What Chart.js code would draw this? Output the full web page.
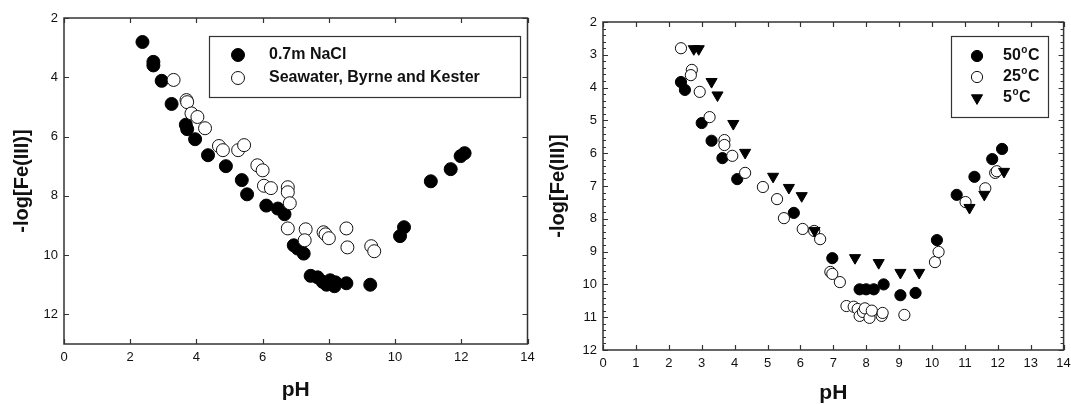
<!DOCTYPE html>
<html>
<head>
<meta charset="utf-8">
<script src="https://cdn.jsdelivr.net/npm/chart.js@4.4.0/dist/chart.umd.min.js"></script>
<style>
  html, body { margin: 0; padding: 0; background: #fff; }
  #wrap { position: relative; width: 1071px; height: 404px; overflow: hidden; }
  #c1 { position: absolute; left: 0; top: 0; }
  #c2 { position: absolute; left: 535px; top: 0; }
</style>
</head>
<body>
<div id="wrap">
  <canvas id="c1" width="535" height="404"></canvas>
  <canvas id="c2" width="536" height="404"></canvas>
</div>
<script>
// ---- left panel: 0.7 m NaCl vs seawater ----
var naclPH = [2.37, 2.70, 2.70, 2.95, 3.25, 3.68, 3.72, 3.96, 4.35, 4.89, 5.37, 5.53, 6.11, 6.46, 6.66, 6.94, 7.06, 7.24, 7.45, 7.66, 7.81, 7.93, 8.04, 8.17, 8.20, 8.53, 9.25, 10.15, 10.27, 11.08, 11.68, 11.98, 12.10];
var naclFe = [2.81, 3.48, 3.60, 4.12, 4.90, 5.60, 5.75, 6.09, 6.63, 7.00, 7.47, 7.95, 8.33, 8.43, 8.62, 9.67, 9.78, 9.95, 10.70, 10.75, 10.90, 11.00, 10.85, 11.05, 10.92, 10.95, 11.00, 9.36, 9.06, 7.51, 7.10, 6.66, 6.56];

var seaPH = [3.31, 3.70, 3.72, 3.85, 4.03, 4.26, 4.68, 4.80, 5.26, 5.44, 5.84, 6.00, 6.04, 6.25, 6.76, 6.76, 6.82, 6.76, 7.30, 7.27, 7.84, 7.90, 8.00, 8.53, 8.56, 9.28, 9.37];
var seaFe = [4.09, 4.77, 4.84, 5.22, 5.34, 5.72, 6.32, 6.46, 6.46, 6.29, 6.97, 7.14, 7.66, 7.74, 7.71, 7.88, 8.25, 9.10, 9.13, 9.50, 9.23, 9.30, 9.43, 9.10, 9.74, 9.70, 9.87];

var leftXTicks = [0, 2, 4, 6, 8, 10, 12, 14];
var leftYTicks = [2, 4, 6, 8, 10, 12];

// ---- right panel: temperature series ----
var t50PH = [2.37, 2.49, 3.00, 3.30, 3.63, 4.08, 5.80, 6.97, 7.80, 8.00, 8.23, 8.53, 9.04, 9.50, 10.15, 10.75, 11.29, 11.83, 12.13];
var t50Fe = [3.83, 4.07, 5.08, 5.62, 6.15, 6.79, 7.82, 9.20, 10.15, 10.15, 10.15, 10.00, 10.33, 10.26, 8.65, 7.27, 6.72, 6.18, 5.87];

var t25PH = [2.37, 2.70, 2.67, 2.94, 3.24, 3.69, 3.69, 3.93, 4.32, 4.86, 5.29, 5.50, 6.07, 6.42, 6.60, 6.91, 6.97, 7.20, 7.40, 7.62, 7.74, 7.80, 7.90, 7.96, 8.10, 8.17, 8.47, 8.50, 9.16, 10.09, 10.20, 11.02, 11.62, 11.92, 11.97];
var t25Fe = [2.80, 3.46, 3.62, 4.13, 4.90, 5.60, 5.75, 6.08, 6.60, 7.03, 7.40, 7.98, 8.31, 8.37, 8.62, 9.62, 9.68, 9.93, 10.66, 10.68, 10.75, 10.96, 10.84, 10.73, 11.02, 10.80, 10.96, 10.87, 10.93, 9.32, 9.01, 7.49, 7.07, 6.60, 6.55];

var t5PH = [2.76, 2.91, 3.30, 3.48, 3.96, 4.32, 5.17, 5.65, 6.04, 6.43, 7.66, 8.38, 9.04, 9.61, 11.14, 11.59, 12.19];
var t5Fe = [2.82, 2.82, 3.82, 4.23, 5.10, 5.98, 6.71, 7.05, 7.30, 8.36, 9.19, 9.34, 9.64, 9.64, 7.66, 7.26, 6.56];

var rightXTicks = [0, 1, 2, 3, 4, 5, 6, 7, 8, 9, 10, 11, 12, 13, 14];
var rightYTicks = [2, 3, 4, 5, 6, 7, 8, 9, 10, 11, 12];

function pts(xs, ys) {
    return xs.map(function (x, i) { return { x: x, y: ys[i] }; });
}

Chart.defaults.font.family = "'Liberation Sans', Arial, sans-serif";
Chart.defaults.color = '#111';

function drawMarker(ctx, ds, x, y) {
    var r = ds.pointRadius;
    ctx.beginPath();
    if (ds.pointStyle === 'triangle') {
        // downward triangle, same geometry chart.js uses for rotation 180
        var rad = Math.PI;
        for (var k = 0; k < 3; k++) {
            var px = x + Math.sin(rad) * r, py = y - Math.cos(rad) * r;
            if (k === 0) ctx.moveTo(px, py); else ctx.lineTo(px, py);
            rad += Math.PI * 2 / 3;
        }
        ctx.closePath();
    } else {
        ctx.arc(x, y, r, 0, Math.PI * 2);
    }
    ctx.fillStyle = ds.pointBackgroundColor;
    ctx.strokeStyle = ds.pointBorderColor;
    ctx.lineWidth = ds.pointBorderWidth;
    ctx.fill();
    ctx.stroke();
}

// box around the plot plus inward tick marks on all four sides
var frameTicks = {
    id: 'frameTicks',
    beforeDatasetsDraw: function (chart, args, opts) {
        var ctx = chart.ctx, a = chart.chartArea;
        var xs = chart.scales.x, ys = chart.scales.y;
        ctx.save();
        ctx.strokeStyle = '#333';
        ctx.lineWidth = 1.5;
        ctx.strokeRect(a.left, a.top, a.right - a.left, a.bottom - a.top);
        ctx.lineWidth = 1.2;
        ctx.beginPath();
        xs.ticks.forEach(function (t) {
            var px = Math.round(xs.getPixelForValue(t.value)) + 0.5;
            ctx.moveTo(px, a.bottom); ctx.lineTo(px, a.bottom - opts.major);
            ctx.moveTo(px, a.top); ctx.lineTo(px, a.top + opts.major);
        });
        ys.ticks.forEach(function (t) {
            var py = Math.round(ys.getPixelForValue(t.value)) + 0.5;
            ctx.moveTo(a.left, py); ctx.lineTo(a.left + opts.major, py);
            ctx.moveTo(a.right, py); ctx.lineTo(a.right - opts.major, py);
        });
        if (opts.minor) {
            var n = Math.round((ys.max - ys.min) / opts.minor);
            for (var i = 1; i < n; i++) {
                var v = ys.min + i * opts.minor;
                var py = Math.round(ys.getPixelForValue(v)) + 0.5;
                ctx.moveTo(a.left, py); ctx.lineTo(a.left + opts.minorLen, py);
                ctx.moveTo(a.right, py); ctx.lineTo(a.right - opts.minorLen, py);
            }
        }
        ctx.stroke();
        ctx.restore();
    }
};

// boxed legend inside the plot
var legendBox = {
    id: 'legendBox',
    afterDatasetsDraw: function (chart, args, opts) {
        var ctx = chart.ctx;
        ctx.save();
        ctx.fillStyle = '#fff';
        ctx.fillRect(opts.x, opts.y, opts.w, opts.h);
        ctx.strokeStyle = '#333';
        ctx.lineWidth = 1.2;
        ctx.strokeRect(opts.x + 0.5, opts.y + 0.5, opts.w, opts.h);
        chart.data.datasets.forEach(function (ds, i) {
            var cy = opts.y + opts.first + i * opts.gap;
            drawMarker(ctx, ds, opts.markerX, cy);
            ctx.fillStyle = '#111';
            ctx.font = 'bold 16px ' + Chart.defaults.font.family;
            ctx.textBaseline = 'middle';
            var label = ds.label, tx = opts.textX;
            var deg = label.indexOf('°');
            if (deg >= 0) {
                var head = label.slice(0, deg), tail = label.slice(deg + 1);
                ctx.fillText(head, tx, cy);
                tx += ctx.measureText(head).width + 0.5;
                ctx.font = 'bold 10px ' + Chart.defaults.font.family;
                ctx.fillText('o', tx, cy - 6);
                tx += ctx.measureText('o').width + 0.5;
                ctx.font = 'bold 16px ' + Chart.defaults.font.family;
                ctx.fillText(tail, tx, cy);
            } else {
                ctx.fillText(label, tx, cy);
            }
        });
        ctx.restore();
    }
};

function axes(xTicks, yTicks, yMax, yStep, xStep, yWidth, xHeight, yTitlePad, xTitlePad) {
    return {
        x: {
            type: 'linear', min: 0, max: 14,
            grid: { display: false, drawTicks: false }, border: { display: false },
            ticks: { stepSize: xStep, padding: 6, maxRotation: 0, font: { size: 13 }, color: '#111' },
            afterBuildTicks: function (s) { s.ticks = xTicks.map(function (v) { return { value: v }; }); },
            afterFit: function (s) { s.height = xHeight; s.paddingLeft = 0; s.paddingRight = 0; },
            title: { display: true, text: 'pH', font: { size: 21, weight: 'bold', lineHeight: 1 }, color: '#111', padding: { top: 0, bottom: xTitlePad } }
        },
        y: {
            type: 'linear', min: 2, max: yMax, reverse: true,
            grid: { display: false, drawTicks: false }, border: { display: false },
            ticks: { stepSize: yStep, padding: 6, font: { size: 13 }, color: '#111' },
            afterBuildTicks: function (s) { s.ticks = yTicks.map(function (v) { return { value: v }; }); },
            afterFit: function (s) { s.width = yWidth; },
            title: { display: true, text: '-log[Fe(III)]', font: { size: 20, weight: 'bold' }, color: '#111', padding: { top: yTitlePad, bottom: 0 } }
        }
    };
}

new Chart(document.getElementById('c1'), {
    type: 'scatter',
    data: {
        datasets: [
            { label: '0.7m NaCl', data: pts(naclPH, naclFe), order: 2,
              pointRadius: 6.5, pointBackgroundColor: '#000', pointBorderColor: '#000', pointBorderWidth: 1 },
            { label: 'Seawater, Byrne and Kester', data: pts(seaPH, seaFe), order: 1,
              pointRadius: 6.5, pointBackgroundColor: '#fff', pointBorderColor: '#111', pointBorderWidth: 1 }
        ]
    },
    options: {
        responsive: false, animation: false,
        layout: { padding: { left: 0, right: 5, top: 18, bottom: 0 } },
        scales: axes(leftXTicks, leftYTicks, 13, 2, 2, 64, 60, 10, 3),
        plugins: {
            legend: { display: false }, tooltip: { enabled: false },
            frameTicks: { major: 5 },
            legendBox: { x: 209, y: 36, w: 311, h: 61, first: 19, gap: 23, markerX: 238, textX: 269 }
        }
    },
    plugins: [frameTicks, legendBox]
});

new Chart(document.getElementById('c2'), {
    type: 'scatter',
    data: {
        datasets: [
            { label: '50°C', data: pts(t50PH, t50Fe), order: 3,
              pointRadius: 5.6, pointBackgroundColor: '#000', pointBorderColor: '#000', pointBorderWidth: 1 },
            { label: '25°C', data: pts(t25PH, t25Fe), order: 2,
              pointRadius: 5.6, pointBackgroundColor: '#fff', pointBorderColor: '#111', pointBorderWidth: 1 },
            { label: '5°C', data: pts(t5PH, t5Fe), order: 1,
              pointStyle: 'triangle', rotation: 180,
              pointRadius: 6.4, pointBackgroundColor: '#000', pointBorderColor: '#000', pointBorderWidth: 1 }
        ]
    },
    options: {
        responsive: false, animation: false,
        layout: { padding: { left: 0, right: 3, top: 22, bottom: 0 } },
        scales: axes(rightXTicks, rightYTicks, 12, 1, 1, 68, 54, 11, 0),
        plugins: {
            legend: { display: false }, tooltip: { enabled: false },
            frameTicks: { major: 5, minor: 0.2, minorLen: 3 },
            legendBox: { x: 416, y: 36, w: 97, h: 81, first: 20, gap: 21, markerX: 442, textX: 468 }
        }
    },
    plugins: [frameTicks, legendBox]
});
</script>
</body>
</html>
